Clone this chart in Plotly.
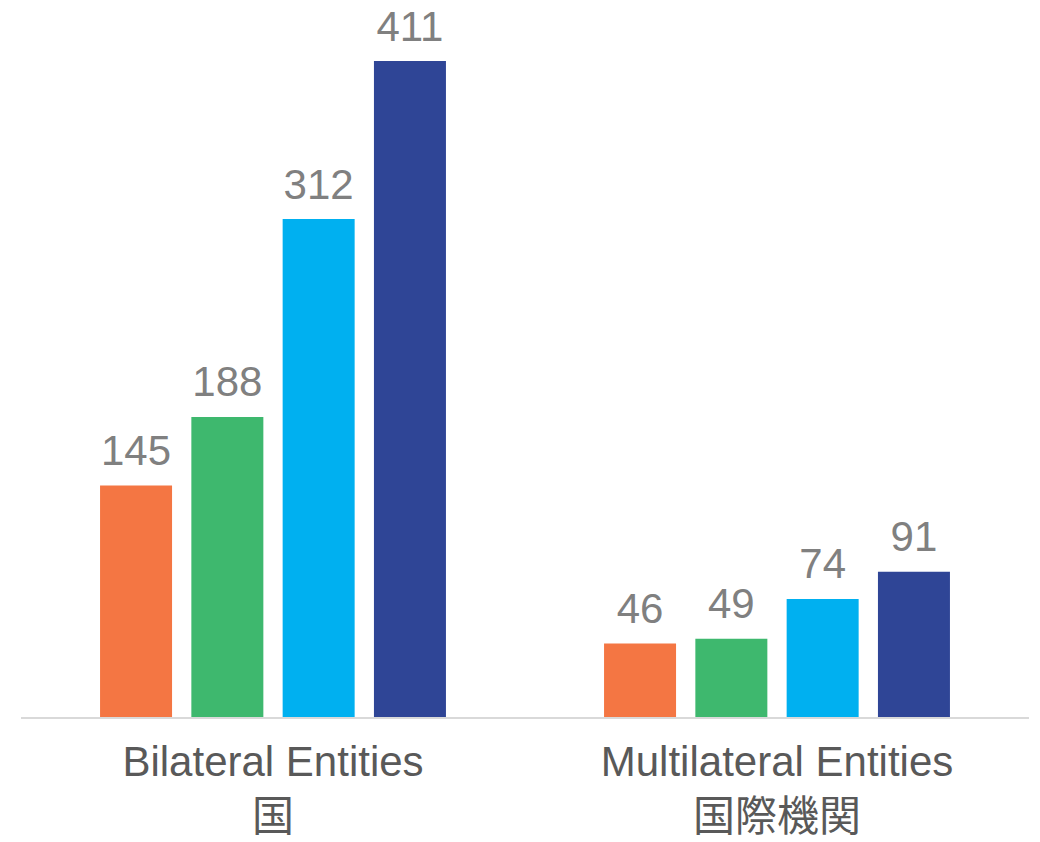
import plotly.graph_objects as go

categories = ["Bilateral Entities<br>国", "Multilateral Entities<br>国際機関"]
series_names = ["Series 1", "Series 2", "Series 3", "Series 4"]
series_values = [
    [145, 46],
    [188, 49],
    [312, 74],
    [411, 91],
]
series_colors = ["#F47643", "#3EB86E", "#00B0F0", "#2F4596"]

FONT = "Arial, 'Liberation Sans', 'Noto Sans CJK JP', sans-serif"
BARGAP = 0.2754

fig = go.Figure()
for i, (name, vals, col) in enumerate(zip(series_names, series_values, series_colors)):
    fig.add_trace(go.Bar(
        x=categories, y=vals, name=name,
        marker=dict(color=col, line=dict(width=0)),
        offsetgroup=str(i), alignmentgroup="a",
        hoverinfo="x+y",
    ))
for i, (name, vals) in enumerate(zip(series_names, series_values)):
    fig.add_trace(go.Scatter(
        x=categories, y=vals, name=name + " label",
        mode="markers+text",
        marker=dict(size=14.4, opacity=0),
        text=[str(v) for v in vals],
        textposition="top center",
        textfont=dict(family=FONT, size=42, color="#808080"),
        offsetgroup=str(i), alignmentgroup="a",
        cliponaxis=False, hoverinfo="skip",
    ))

fig.update_layout(
    width=1040, height=842,
    margin=dict(l=21, r=11, t=20, b=125),
    barmode="group",
    bargap=BARGAP,
    bargroupgap=0.2114,
    scattermode="group",
    scattergap=BARGAP,
    plot_bgcolor="white",
    paper_bgcolor="white",
    showlegend=False,
    font=dict(family=FONT),
)
fig.update_xaxes(
    showline=True, linecolor="#d9d9d9", linewidth=1.5,
    ticks="", showgrid=False,
    tickfont=dict(family=FONT, size=42, color="#595959"),
    ticklabelstandoff=7,
    automargin=False,
    range=[-0.5, 1.5],
)
fig.update_yaxes(
    visible=False, range=[0, 436.7], showgrid=False, zeroline=False,
    automargin=False,
)

fig.write_html("out.html")
